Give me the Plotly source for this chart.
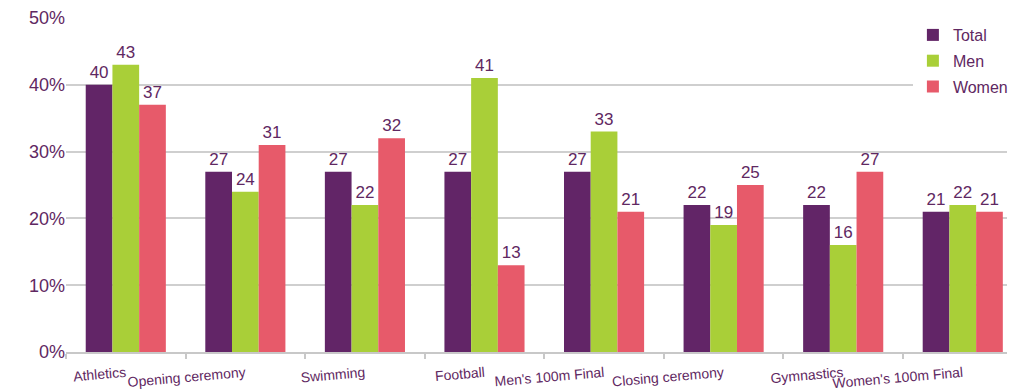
import plotly.graph_objects as go

categories = ["Athletics", "Opening ceremony", "Swimming", "Football",
              "Men's 100m Final", "Closing ceremony", "Gymnastics", "Women's 100m Final"]
total = [40, 27, 27, 27, 27, 22, 22, 21]
men = [43, 24, 22, 41, 33, 19, 16, 22]
women = [37, 31, 32, 13, 21, 25, 27, 21]
series_names = ["Total", "Men", "Women"]
colors = ["#622567", "#a9cf38", "#e75a6a"]
ytickvals = [0, 10, 20, 30, 40, 50]
yticktext = ["0%", "10%", "20%", "30%", "40%", "50%"]

TXT = "#5f2862"
FONT = "Liberation Sans, Arial, sans-serif"

fig = go.Figure()
for name, vals, col in zip(series_names, [total, men, women], colors):
    fig.add_trace(go.Bar(
        x=categories, y=vals, name=name, marker_color=col,
        marker_line_width=0,
        text=[str(v) for v in vals], textposition="outside",
        textfont=dict(size=17, color=TXT, family=FONT),
        cliponaxis=False, legendgroup=name,
    ))

fig.update_layout(
    width=1014, height=391,
    margin=dict(l=66, r=1, t=18, b=39),
    paper_bgcolor="white", plot_bgcolor="white",
    barmode="group", bargap=0.33, bargroupgap=0,
    font=dict(family=FONT, color=TXT),
    showlegend=True,
    legend=dict(x=0.9, y=1.0, xanchor="left", yanchor="top",
                bgcolor="white", borderwidth=0,
                font=dict(size=16, color=TXT, family=FONT),
                traceorder="grouped", tracegroupgap=2),
)
fig.update_xaxes(
    type="category", range=[-0.5, 7.37], automargin=False,
    tickson="boundaries", ticks="outside", ticklen=5, tickwidth=1.5, tickcolor="#c8c8c8",
    showline=True, linecolor="#c8c8c8", linewidth=2,
    showgrid=False, tickangle=-5, ticklabelstandoff=6,
    tickfont=dict(size=14, color=TXT, family=FONT),
)
fig.update_yaxes(
    range=[0, 50], tickvals=ytickvals, ticktext=yticktext, automargin=False,
    showgrid=True, gridcolor="#cfcfcf", gridwidth=2,
    zeroline=False, showline=False, ticks="",
    tickfont=dict(size=18, color=TXT, family=FONT),
)
fig.write_html("out.html", config={"displayModeBar": False},
               post_script="document.body.style.margin='0';")
